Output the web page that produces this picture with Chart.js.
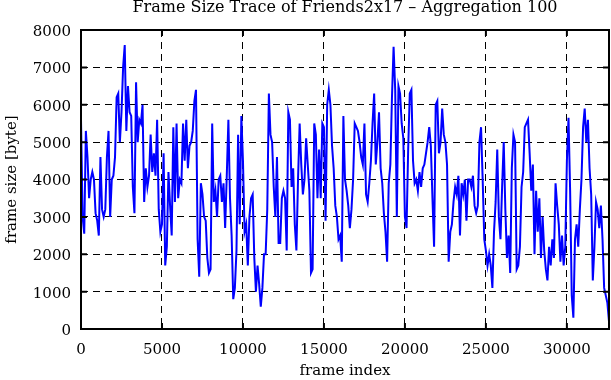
<!DOCTYPE html>
<html>
<head>
<meta charset="utf-8">
<title>Frame Size Trace</title>
<script src="https://cdn.jsdelivr.net/npm/chart.js@4"></script>
<style>
    html, body { margin: 0; padding: 0; background: #fff; }
    canvas { display: block; }
</style>
</head>
<body>
<canvas id="traceChart" width="611" height="380"></canvas>
<script>
const AGGREGATION = 100;
const X_MAX = 32600;

// frame size per aggregated block of 100 frames (bytes)
const frameSizes = [
    5600, 3000, 2550, 5300, 4600, 3500, 4000, 4200, 4000, 3100,
    2900, 2500, 4600, 3200, 3000, 3200, 4600, 5300, 3000, 4000,
    4100, 4600, 6200, 6300, 5000, 5800, 7000, 7600, 5300, 6500,
    5800, 5700, 3800, 3100, 6600, 5000, 5600, 5500, 6000, 3400,
    4300, 3800, 4100, 5200, 4200, 4700, 4100, 5600, 3200, 2600,
    2800, 4700, 1700, 2200, 4200, 3300, 2500, 5400, 3400, 5500,
    3500, 4000, 3900, 5500, 4500, 5600, 4300, 4900, 5000, 5300,
    6100, 6400, 2400, 1400, 3900, 3600, 3000, 2900, 1900, 1500,
    1600, 5500, 3400, 3700, 3000, 4000, 4100, 3400, 3900, 2700,
    4100, 5600, 3500, 2500, 800, 1100, 2100, 5200, 2800, 5700,
    4500, 2600, 2800, 1700, 3000, 3500, 3600, 1900, 1000, 1700,
    1200, 600, 1100, 2000, 2000, 3200, 6300, 5200, 5000, 3800,
    3000, 4600, 2300, 2300, 3500, 3700, 3500, 2100, 5800, 5600,
    3800, 4300, 2800, 2100, 4000, 5500, 4400, 3600, 4000, 5100,
    4400, 3700, 1500, 1600, 5500, 5200, 3500, 4800, 3500, 5500,
    5400, 2900, 6000, 6400, 6000, 4900, 4300, 3300, 3000, 2400,
    2500, 1800, 5700, 4000, 3700, 3300, 2700, 3200, 4000, 5500,
    5400, 5300, 5000, 4600, 4400, 5500, 3600, 3400, 3900, 4500,
    5500, 6300, 4400, 5000, 5800, 4300, 3900, 3100, 2600, 1800,
    3900, 4400, 6200, 7550, 6400, 3000, 6500, 6300, 5500, 5100,
    3000, 2700, 4800, 6300, 6400, 4500, 3900, 4000, 3700, 4200,
    3800, 4300, 4400, 4700, 5000, 5400, 4900, 3500, 2200, 6000,
    6100, 4700, 5000, 5900, 5200, 5000, 4400, 1800, 2600, 2800,
    3400, 3800, 3600, 4100, 2500, 3900, 3600, 4000, 2900, 4000,
    4000, 3800, 4100, 3300, 3100, 3300, 5000, 5400, 4000, 2400,
    2100, 1700, 2000, 1700, 1100, 2600, 3400, 4800, 3000, 2400,
    3800, 5000, 3200, 1900, 2500, 1500, 4300, 5200, 5000, 1600,
    1700, 2200, 3800, 4200, 5400, 5500, 5600, 4700, 3700, 4400,
    2000, 3700, 2600, 3500, 1900, 3000, 2100, 1600, 1300, 2200,
    1700, 2400, 1900, 3900, 3300, 2800, 1800, 2500, 1700, 2200,
    4500, 5650, 3700, 900, 300, 2400, 2800, 2200, 3200, 4000,
    5400, 5900, 5000, 5600, 4300, 3600, 1300, 2200, 3400, 3200,
    2700, 3300, 2400, 1100, 900, 700, 200
];

const xTickValues = [0, 5000, 10000, 15000, 20000, 25000, 30000];
const yTickValues = [0, 1000, 2000, 3000, 4000, 5000, 6000, 7000, 8000];

const FONT = { family: "'DejaVu Serif', 'Liberation Serif', serif", size: 15 };

let traceChart;

document.addEventListener('DOMContentLoaded', () => {
    initChart();
});

// gnuplot style box round the plot, with small inward ticks on all four sides
const framePlugin = {
    id: 'frame',
    afterDraw(chart) {
        const { ctx, chartArea: a, scales } = chart;
        ctx.save();
        ctx.setLineDash([]);
        ctx.strokeStyle = '#000';
        ctx.lineWidth = 2;
        ctx.strokeRect(a.left, a.top, a.right - a.left, a.bottom - a.top);
        ctx.beginPath();
        xTickValues.forEach(v => {
            const px = scales.x.getPixelForValue(v);
            ctx.moveTo(px, a.bottom); ctx.lineTo(px, a.bottom - 6);
            ctx.moveTo(px, a.top); ctx.lineTo(px, a.top + 6);
        });
        yTickValues.forEach(v => {
            const py = scales.y.getPixelForValue(v);
            ctx.moveTo(a.left, py); ctx.lineTo(a.left + 6, py);
            ctx.moveTo(a.right, py); ctx.lineTo(a.right - 6, py);
        });
        ctx.stroke();
        ctx.restore();
    }
};

function gridColor(ctx, max) {
    const v = ctx.tick ? ctx.tick.value : null;
    return (v === 0 || v === max) ? 'rgba(0,0,0,0)' : '#000';
}

function plainNumber(value) {
    return String(value);
}

function initChart() {
    const ctx = document.getElementById('traceChart').getContext('2d');
    const points = frameSizes.map((size, i) => ({ x: i * AGGREGATION, y: size }));

    traceChart = new Chart(ctx, {
        type: 'line',
        data: {
            datasets: [{
                label: 'frame size',
                data: points,
                borderColor: '#0000ff',
                borderWidth: 2,
                pointRadius: 0,
                tension: 0,
                fill: false
            }]
        },
        options: {
            responsive: false,
            animation: false,
            devicePixelRatio: 1,
            layout: { padding: { left: 0, right: 2, top: 0, bottom: 0 } },
            plugins: {
                legend: { display: false },
                tooltip: { enabled: false },
                title: {
                    display: true,
                    text: 'Frame Size Trace of Friends2x17 \u2013 Aggregation 100',
                    color: '#000',
                    fullSize: false,
                    font: { ...FONT, size: 16, weight: 'normal', lineHeight: 1 },
                    padding: { top: 0, bottom: 14 }
                }
            },
            scales: {
                x: {
                    type: 'linear',
                    min: 0,
                    max: X_MAX,
                    afterBuildTicks: scale => {
                        scale.ticks = xTickValues.map(v => ({ value: v }));
                    },
                    afterFit: scale => { scale.height = 51; },
                    ticks: {
                        color: '#000',
                        font: FONT,
                        padding: 12,
                        maxRotation: 0,
                        callback: plainNumber
                    },
                    grid: {
                        color: c => gridColor(c, X_MAX),
                        lineWidth: 1,
                        drawTicks: false
                    },
                    border: { display: false, dash: [7, 5] },
                    title: {
                        display: true,
                        text: 'frame index',
                        color: '#000',
                        font: FONT,
                        padding: { top: 0, bottom: 0 }
                    }
                },
                y: {
                    min: 0,
                    max: 8000,
                    afterBuildTicks: scale => {
                        scale.ticks = yTickValues.map(v => ({ value: v }));
                    },
                    afterFit: scale => { scale.width = 81; },
                    ticks: {
                        color: '#000',
                        font: FONT,
                        padding: 10,
                        labelOffset: 2,
                        callback: plainNumber
                    },
                    grid: {
                        color: c => gridColor(c, 8000),
                        lineWidth: 1,
                        drawTicks: false
                    },
                    border: { display: false, dash: [7, 5] },
                    title: {
                        display: true,
                        text: 'frame size [byte]',
                        color: '#000',
                        font: FONT,
                        padding: { top: 3, bottom: 0 }
                    }
                }
            }
        },
        plugins: [framePlugin]
    });
}
</script>
</body>
</html>
